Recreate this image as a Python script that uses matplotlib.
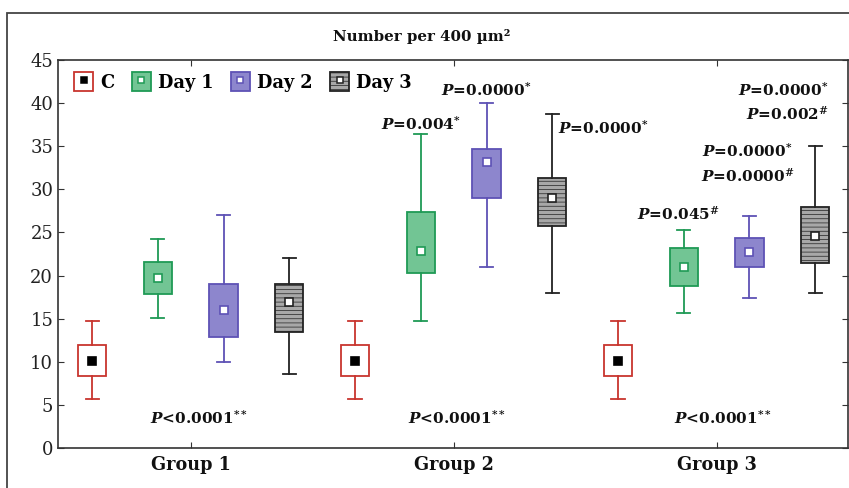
import matplotlib
matplotlib.use("Agg")
import matplotlib.pyplot as plt
from matplotlib.patches import Patch, Rectangle
from matplotlib.lines import Line2D

plt.rcParams['font.family'] = ['DejaVu Serif']
plt.rcParams['mathtext.fontset'] = 'custom'
plt.rcParams['mathtext.rm'] = 'DejaVu Serif:bold'
plt.rcParams['mathtext.it'] = 'DejaVu Serif:italic:bold'
plt.rcParams['hatch.linewidth'] = 0.5

# data (whisker low, q1, mean, q3, whisker high)
groups = ["Group 1", "Group 2", "Group 3"]
series = ["C", "Day 1", "Day 2", "Day 3"]
whislo = [5.7, 15.1, 10.0, 8.6,   5.7, 14.7, 21.0, 18.0,   5.7, 15.7, 17.4, 18.0]
q1     = [8.35, 17.9, 12.9, 13.5, 8.35, 20.3, 29.0, 25.8,  8.35, 18.8, 21.0, 21.5]
means  = [10.1, 19.7, 16.0, 16.9, 10.1, 22.9, 33.2, 29.0,  10.1, 21.0, 22.7, 24.6]
q3     = [11.9, 21.6, 19.0, 19.0, 11.9, 27.4, 34.7, 31.3,  11.9, 23.2, 24.4, 28.0]
whishi = [14.7, 24.2, 27.0, 22.0, 14.7, 36.4, 40.0, 38.7,  14.7, 25.3, 26.9, 35.0]

edge_colors = ['#c8352e', '#1f9a55', '#5e52b5', '#222222']
face_colors = ['white', '#72c594', '#8d86cd', '#a8a8a8']
hatches = [None, None, None, '----']

fig = plt.figure(figsize=(8.49, 4.88), dpi=100)
ax = fig.add_axes([58/849, 40/488, 790/849, 388/488])

positions = list(range(12))
for i in positions:
    s = i % 4
    st = [dict(whislo=whislo[i], q1=q1[i], med=means[i], q3=q3[i],
               whishi=whishi[i], mean=means[i], fliers=[])]
    mfc = 'black' if s == 0 else 'white'
    mec = 'black' if s == 0 else edge_colors[s]
    art = ax.bxp(st, positions=[i], widths=0.43, capwidths=0.2,
                 patch_artist=True, showmeans=True, showfliers=False,
                 boxprops=dict(facecolor=face_colors[s], edgecolor=edge_colors[s], linewidth=1.3),
                 whiskerprops=dict(color=edge_colors[s], linewidth=1.3),
                 capprops=dict(color=edge_colors[s], linewidth=1.3),
                 medianprops=dict(linewidth=0),
                 meanprops=dict(marker='s', markerfacecolor=mfc, markeredgecolor=mec,
                                markersize=6, markeredgewidth=1.2))
    if hatches[s]:
        art['boxes'][0].set_hatch(hatches[s])

ax.set_xlim(-0.52, 11.5)
ax.set_ylim(0, 45)
ax.set_yticks(range(0, 46, 5))
ax.set_xticks([1.5, 5.5, 9.5])
ax.set_xticklabels(groups, fontsize=12.7, fontweight='bold')
ax.tick_params(axis='y', labelsize=13, direction='in', right=True, length=4, colors='#333333',
               labelcolor='#222222')
ax.tick_params(axis='x', direction='in', top=True, length=4, colors='#333333',
               labelcolor='#111111', pad=6)
for sp in ax.spines.values():
    sp.set_color('#333333')
    sp.set_linewidth(1.2)

# legend
handles = []
for s in range(4):
    mfc = 'black' if s == 0 else 'white'
    mec = 'black' if s == 0 else edge_colors[s]
    p = Patch(facecolor=face_colors[s], edgecolor=edge_colors[s], linewidth=1.3, hatch=hatches[s])
    m = Line2D([], [], linestyle='none', marker='s', markersize=5,
               markerfacecolor=mfc, markeredgecolor=mec, markeredgewidth=1.1)
    handles.append((p, m))
ax.legend(handles, series, loc='upper left', ncol=4, frameon=False,
          prop=dict(size=12.8, weight='bold'), handlelength=1.05, handleheight=1.25,
          handletextpad=0.4, columnspacing=1.0, borderaxespad=0.3,
          bbox_to_anchor=(0.005, 1.0))

# annotations
ann = dict(fontsize=11, fontweight='bold', color='#111111')
p_star = r"$\mathit{P}$=0.0000$^{*}$"
for gx in [1.62, 5.55, 9.6]:
    ax.text(gx, 3.5, r"$\mathit{P}$<0.0001$^{**}$", ha='center', va='center', **ann)
ax.text(5.0, 37.6, r"$\mathit{P}$=0.004$^{*}$", ha='center', va='center', **ann)
ax.text(6.0, 41.5, p_star, ha='center', va='center', **ann)
ax.text(7.09, 37.1, p_star, ha='left', va='center', **ann)
ax.text(8.92, 27.2, r"$\mathit{P}$=0.045$^{\#}$", ha='center', va='center', **ann)
ax.text(9.97, 34.5, p_star, ha='center', va='center', **ann)
ax.text(9.97, 31.6, r"$\mathit{P}$=0.0000$^{\#}$", ha='center', va='center', **ann)
ax.text(11.2, 41.5, p_star, ha='right', va='center', **ann)
ax.text(11.2, 38.8, r"$\mathit{P}$=0.002$^{\#}$", ha='right', va='center', **ann)

fig.text(422/849, 1 - 36/488, "Number per 400 µm²", ha='center', va='center',
         fontsize=10.8, fontweight='bold', color='#111111')

fig.patches.append(Rectangle((7/849, -0.1), 1.2, 1.1 - 13/488, transform=fig.transFigure,
                             fill=False, edgecolor='#444444', linewidth=1.3))

fig.savefig("out.png", dpi=100)
